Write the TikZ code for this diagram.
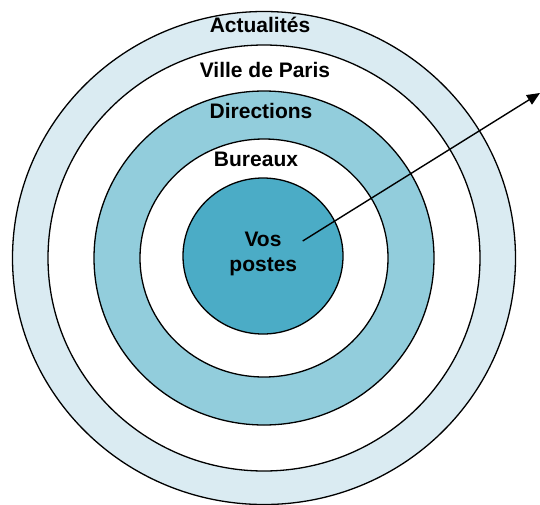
\documentclass[tikz,border=0pt]{standalone}
\usepackage{fontspec}
\setmainfont{Liberation Sans}
\usetikzlibrary{arrows.meta}
\definecolor{ringlight}{HTML}{DAEBF2}
\definecolor{ringmid}{HTML}{92CDDC}
\definecolor{ringdark}{HTML}{4BACC6}
\tikzset{
  ring/.style={draw=black, line width=1.3pt},
  lab/.style={font=\fontsize{21}{25}\selectfont\bfseries, anchor=base, inner sep=0pt},
  pointer/.style={draw=black, line width=1.4pt, -{Triangle[length=13pt,width=11pt]}}
}
\begin{document}
\begin{tikzpicture}[x=1pt,y=-1pt]
\useasboundingbox (0,0) rectangle (540,504);
\coordinate (c) at (264,258);
\path[ring, fill=ringlight] (c) ellipse [x radius=251.5, y radius=246.5];
\path[ring, fill=white] (c) ellipse [x radius=216, y radius=213];
\path[ring, fill=ringmid] (c) ellipse [x radius=170, y radius=167];
\path[ring, fill=white] (c) ellipse [x radius=124, y radius=119];
\path[ring, fill=ringdark] (263,256) ellipse [x radius=80, y radius=78];
\node[lab] (actu) at (260,32.3) {Actualités};
\node[lab] (ville) at (265,77.7) {Ville de Paris};
\node[lab] (dir) at (261,118.3) {Directions};
\node[lab] (bur) at (256,166.7) {Bureaux};
\node[lab] (vos) at (263,246.7) {Vos};
\node[lab] (postes) at (263.3,271.7) {postes};
\coordinate (start) at (302.7,241);
\coordinate (tip) at (540,93);
\draw[pointer] (start) -- (tip);
\end{tikzpicture}
\end{document}
